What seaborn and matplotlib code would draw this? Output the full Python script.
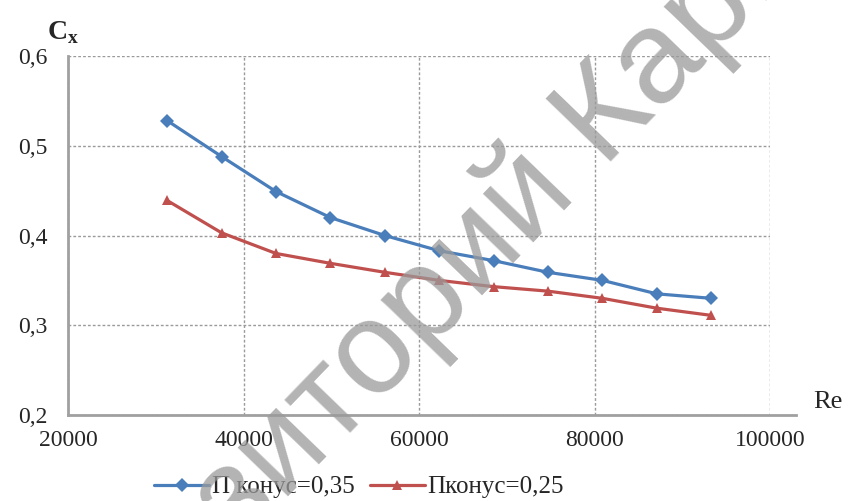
import matplotlib
matplotlib.use("Agg")
import matplotlib.pyplot as plt
import seaborn as sns
import pandas as pd
from matplotlib.ticker import FixedLocator, FixedFormatter

# ---- data ----
re_values = [31300, 37500, 43700, 49900, 56100, 62300, 68500, 74700, 80900, 87100, 93300]
cx_035 = [0.528, 0.488, 0.449, 0.420, 0.400, 0.383, 0.372, 0.359, 0.350, 0.335, 0.330]
cx_025 = [0.439, 0.403, 0.380, 0.369, 0.359, 0.350, 0.343, 0.338, 0.330, 0.319, 0.311]
series_names = ["П конус=0,35", "Пконус=0,25"]
x_ticks = [20000, 40000, 60000, 80000, 100000]
x_tick_labels = ["20000", "40000", "60000", "80000", "100000"]
y_ticks = [0.2, 0.3, 0.4, 0.5, 0.6]
y_tick_labels = ["0,2", "0,3", "0,4", "0,5", "0,6"]

df = pd.concat([
    pd.DataFrame({"Re": re_values, "Cx": cx_035, "series": series_names[0]}),
    pd.DataFrame({"Re": re_values, "Cx": cx_025, "series": series_names[1]}),
])

sns.set_style("white")
plt.rcParams["font.family"] = ["Liberation Serif", "DejaVu Serif"]
plt.rcParams["mathtext.fontset"] = "custom"
plt.rcParams["mathtext.rm"] = "Liberation Serif"
plt.rcParams["mathtext.bf"] = "Liberation Serif:bold"

blue = "#4a7ebb"
red = "#c0504d"
txt = "#262626"

fig = plt.figure(figsize=(8.53, 5.01), dpi=100)
ax = fig.add_axes([68 / 853, 1 - 415 / 501, (770 - 68) / 853, (415 - 56) / 501])

# watermark
fig.text(0.53, 0.45, "Репозиторий КарГТУ", rotation=46, fontsize=95,
         family=["Liberation Sans", "DejaVu Sans"], color="#9a9a9a", alpha=0.75,
         ha="center", va="center", zorder=10)

sns.lineplot(data=df, x="Re", y="Cx", hue="series", style="series",
             markers=["D", "^"], dashes=False, palette=[blue, red],
             linewidth=2.3, markersize=7, markeredgewidth=0, ax=ax, legend=True)

ax.set_xlim(20000, 100000)
ax.set_ylim(0.2, 0.6)
ax.xaxis.set_major_locator(FixedLocator(x_ticks))
ax.xaxis.set_major_formatter(FixedFormatter(x_tick_labels))
ax.yaxis.set_major_locator(FixedLocator(y_ticks))
ax.yaxis.set_major_formatter(FixedFormatter(y_tick_labels))
ax.grid(True, color="#9a9a9a", linestyle=(0, (2, 1.5)), linewidth=1.0)
ax.set_xlabel("")
ax.set_ylabel("")

for s in ["top", "right"]:
    ax.spines[s].set_visible(False)
for s in ["left", "bottom"]:
    ax.spines[s].set_color("#a0a0a0")
    ax.spines[s].set_linewidth(2)
ax.spines["bottom"].set_bounds(20000, 103000)

ax.tick_params(axis="both", which="major", direction="out", length=6, width=1.2,
               color="#a0a0a0", labelsize=17, labelcolor=txt)
ax.tick_params(axis="x", pad=5)
ax.tick_params(axis="y", pad=9)

fig.text(47 / 853, 1 - 33 / 501, r"$\mathbf{C}_{\mathbf{x}}$", fontsize=20, color=txt,
         ha="left", va="center")
fig.text(813 / 853, 1 - 402 / 501, "Re", fontsize=19, color=txt, ha="left", va="center")

leg = ax.get_legend()
handles, labels = ax.get_legend_handles_labels()
leg.remove()
fig.legend(handles, labels, loc="center", bbox_to_anchor=(359 / 853, 1 - 487 / 501),
           ncol=2, frameon=False, fontsize=18, handlelength=2.2, handletextpad=0.1,
           columnspacing=0.6, labelcolor=txt)

fig.savefig("out.png", dpi=100)
